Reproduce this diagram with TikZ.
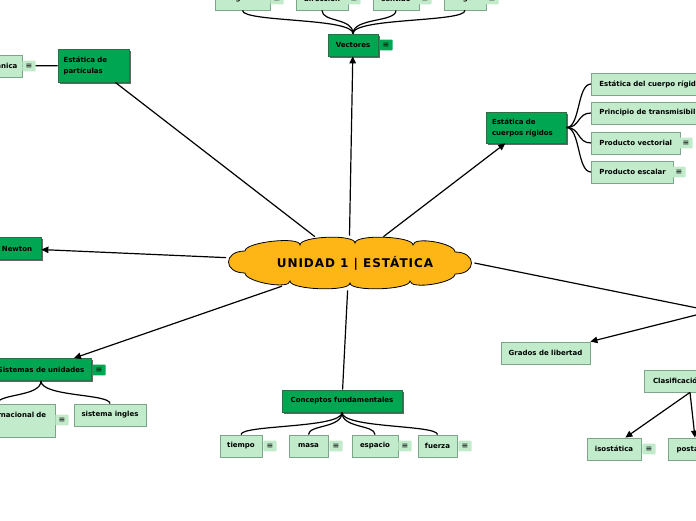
\documentclass[tikz,border=0pt]{standalone}
\usepackage{fontspec}
\setmainfont{DejaVu Sans}
\newfontfamily\cloudfont[LetterSpace=8]{DejaVu Sans}
\usetikzlibrary{shapes.geometric,shadows,arrows.meta}

\definecolor{mmdark}{RGB}{0,166,81}
\definecolor{mmdarkline}{RGB}{40,112,70}
\definecolor{mmlight}{RGB}{194,235,204}
\definecolor{mmlightline}{RGB}{125,165,138}
\definecolor{mmcloud}{RGB}{253,182,22}

\begin{document}
\begin{tikzpicture}[x=1pt, y=-1pt, line width=1.2pt,
        topic/.style={draw=mmdarkline, fill=mmdark, minimum height=22pt,
            drop shadow={shadow xshift=1.5pt, shadow yshift=-1.5pt, fill=black!60, opacity=1}},
        sub/.style={draw=mmlightline, fill=mmlight, minimum height=22pt},
        note/.style={fill=mmlight, rounded corners=1pt, minimum width=9pt, minimum height=10pt,
            font=\fontsize{8}{8}\selectfont},
        notedark/.style={note, fill=mmdark},
        arr/.style={-{Triangle[length=7pt,width=6.5pt]}}
    ]
    \useasboundingbox (0,0) rectangle (696,520);
    \clip (0,0) rectangle (696,520);

    % nube central
    \draw[fill=mmcloud, line width=0.8pt] (245,251)
        .. controls +(0,-9) and +(0,-9) .. (300,245)
        .. controls +(0,-9) and +(0,-9) .. (355,243)
        .. controls +(0,-9) and +(0,-9) .. (413,245)
        .. controls +(0,-9) and +(0,-9) .. (455,252)
        .. controls +(22,0) and +(22,0) .. (455,274)
        .. controls +(0,9) and +(0,9) .. (410,281)
        .. controls +(0,9) and +(0,9) .. (350,283)
        .. controls +(0,9) and +(0,9) .. (290,281)
        .. controls +(0,9) and +(0,9) .. (245,273)
        .. controls +(-22,0) and +(-22,0) .. cycle;

    \begin{scope}[
            every node/.style={font=\fontsize{7}{11}\selectfont\bfseries, inner sep=0pt, line width=0.8pt}
        ]

        \node[ellipse, minimum width=250pt, minimum height=54pt,
            font=\cloudfont\fontsize{12}{13}\selectfont\bfseries] (unidad) at (349,263) {\hspace*{12pt}UNIDAD 1 | ESTÁTICA};

        % vectores
        \node[topic, minimum width=50pt] (vectores) at (353,45) {Vectores};
        \node[sub, minimum width=55pt] (magnitud) at (242.5,-1) {magnitud};
        \node[sub, minimum width=52pt] (direccion) at (322,-1) {dirección};
        \node[sub, minimum width=46pt] (sentido) at (396,-1) {sentido};
        \node[sub, minimum width=42pt] (origen) at (465,-1) {origen};

        % particulas
        \node[topic, minimum width=71pt, minimum height=33pt, text width=60pt, align=left] (particulas) at (93.5,65.5) {Estática de\\partículas};
        \node[sub, minimum width=46pt] (mecanica) at (-1,66) {Mecánica};

        % cuerpos rigidos
        \node[topic, minimum width=80pt, minimum height=31pt, text width=68pt, align=left] (rigidos) at (526,127.5) {Estática de\\cuerpos rígidos};
        \node[sub, anchor=west, inner xsep=8pt] (cuerpo) at (591,84) {Estática del cuerpo rígido};
        \node[sub, anchor=west, inner xsep=8pt] (transm) at (591,113) {Principio de transmisibilidad};
        \node[sub, anchor=west, inner xsep=8pt] (pvect) at (591,143) {Producto vectorial};
        \node[sub, anchor=west, inner xsep=8pt] (pesc) at (591,172) {Producto escalar};

        \node[topic, minimum width=48pt] (newton) at (17,248.5) {Newton};

        % sistemas de unidades
        \node[topic, minimum width=100pt] (sistemas) at (41,369.5) {Sistemas de unidades};
        \node[sub, minimum height=33pt, text width=99pt, inner xsep=8pt, align=left] (si) at (-2.5,420.5) {Sistema internacional de\\unidades};
        \node[sub, minimum width=72pt] (ingles) at (110,415) {sistema ingles};

        % conceptos
        \node[topic, minimum width=120pt] (conceptos) at (342,401) {Conceptos fundamentales};
        \node[sub, minimum width=42pt] (tiempo) at (241,446) {tiempo};
        \node[sub, minimum width=39pt] (masa) at (308.5,446) {masa};
        \node[sub, minimum width=46pt] (espacio) at (375,446) {espacio};
        \node[sub, minimum width=39pt] (fuerza) at (437.5,446) {fuerza};

        % derecha
        \node[sub, minimum width=89pt] (grados) at (545.5,353) {Grados de libertad};
        \node[sub, text width=74pt, inner xsep=9pt, align=left] (clasif) at (690,381) {Clasificación};
        \node[sub, minimum width=54pt] (iso) at (614,449) {isostática};
        \node[sub, minimum width=54pt] (posta) at (695,449) {postática};
    \end{scope}

    \coordinate (r) at (712,311);

    \draw[arr] (unidad) edge (vectores);
    \draw (unidad) edge (particulas);
    \draw[arr] (unidad) edge (rigidos);
    \draw[arr] (unidad) edge (newton);
    \draw[arr] (unidad) edge (sistemas);
    \draw (unidad) edge (conceptos);
    \draw (unidad.east) -- (r);
    \draw[arr] (r) -- (grados.north east);
    \draw[arr] (clasif.south) -- (iso.45);
    \draw[arr] (clasif.south) -- (posta.north);

    \draw (mecanica) -- (particulas);

    \draw (vectores.north) .. controls +(0,-16) and +(0,12) .. (magnitud.south);
    \draw (vectores.north) .. controls +(0,-16) and +(0,12) .. (direccion.south);
    \draw (vectores.north) .. controls +(0,-16) and +(0,12) .. (sentido.south);
    \draw (vectores.north) .. controls +(0,-16) and +(0,12) .. (origen.south);

    \draw (rigidos.east) .. controls +(14,0) and +(-14,0) .. (cuerpo.west);
    \draw (rigidos.east) .. controls +(14,0) and +(-14,0) .. (transm.west);
    \draw (rigidos.east) .. controls +(14,0) and +(-14,0) .. (pvect.west);
    \draw (rigidos.east) .. controls +(14,0) and +(-14,0) .. (pesc.west);

    \draw (sistemas.south) .. controls +(0,16) and +(0,-10) .. (si.north);
    \draw (sistemas.south) .. controls +(0,16) and +(0,-10) .. (ingles.north);

    \draw (conceptos.south) .. controls +(0,16) and +(0,-10) .. (tiempo.north);
    \draw (conceptos.south) .. controls +(0,16) and +(0,-10) .. (masa.north);
    \draw (conceptos.south) .. controls +(0,16) and +(0,-10) .. (espacio.north);
    \draw (conceptos.south) .. controls +(0,16) and +(0,-10) .. (fuerza.north);

    % notas
    \node[notedark] (nvect) at (386,45) {≡};
    \node[note] (nmag) at (277,-1) {≡};
    \node[note] (ndir) at (354,-1) {≡};
    \node[note] (nsen) at (425,-1) {≡};
    \node[note] (nori) at (492,-1) {≡};
    \node[note] (nmec) at (29,66) {≡};
    \node[note] (npv) at (686,143) {≡};
    \node[note] (npe) at (679,172) {≡};
    \node[notedark] (nsis) at (99,370) {≡};
    \node[note] (nsi) at (62,420) {≡};
    \node[note] (ntie) at (270,446) {≡};
    \node[note] (nmas) at (336,446) {≡};
    \node[note] (nesp) at (405,446) {≡};
    \node[note] (nfue) at (465,446) {≡};
    \node[note] (niso) at (649,449) {≡};
\end{tikzpicture}
\end{document}
